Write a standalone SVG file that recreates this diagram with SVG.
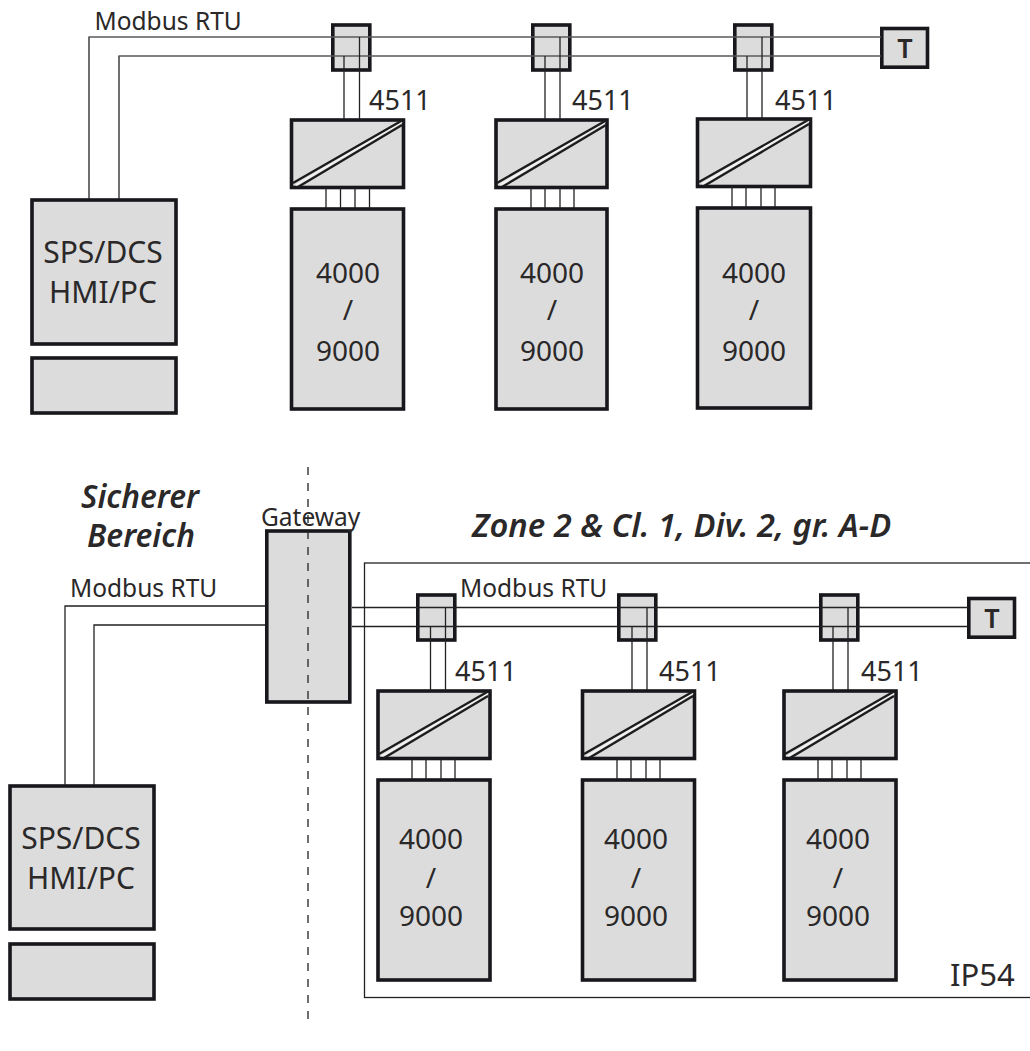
<svg xmlns="http://www.w3.org/2000/svg" width="1030" height="1051" viewBox="0 0 1030 1051">
<style>
.b{fill:#dcdcdc;stroke:#17171c;stroke-width:3.6}
.l{fill:none;stroke:#5a5a5a;stroke-width:1.5}
.k{fill:none;stroke:#222;stroke-width:1.3}
.s{fill:none;stroke:#1c1c1c;stroke-width:2.300}
.g{fill:none;stroke:#f4f4f4;stroke-width:2}
text{font-family:"Noto Sans","Open Sans",sans-serif;fill:#2a2828}
.m{font-size:24.500px}
.q{font-size:27px}
.n{font-size:28px;text-anchor:middle}
.p{font-size:30px;text-anchor:middle}
.i{font-size:31.500px;font-style:italic;font-weight:600}
.z{font-size:32.700px;font-style:italic;font-weight:600}
.t{font-size:27px;font-weight:600;text-anchor:middle}
.f{font-size:31px}
</style>
<rect width="1030" height="1051" fill="#fff"/>
<g id="zone"><rect x="364.500" y="563" width="670" height="434.500" fill="none" stroke="#222" stroke-width="1.300"/></g>
<g id="n-sps1"><rect class="b" x="32" y="200" width="144" height="144"/><text class="p" x="103" y="263">SPS/DCS</text><text class="p" x="103" y="303">HMI/PC</text></g>
<g id="n-panel1"><rect class="b" x="32" y="358" width="144" height="55"/></g>
<g id="n-c1"><rect class="b" x="332.800" y="25" width="37" height="45"/></g>
<g id="n-c2"><rect class="b" x="532.800" y="25" width="37" height="45"/></g>
<g id="n-c3"><rect class="b" x="734.800" y="25" width="37" height="45"/></g>
<g id="n-t1"><rect class="b" x="881.800" y="28.500" width="45.700" height="38.700"/><text class="t" x="905" y="58">T</text></g>
<g id="n-conv1"><rect class="b" x="291.500" y="120" width="112" height="67.500"/><path class="g" d="M296 185L402 122"/><path class="s" d="M293 183L402 120.500M298 187L402 125"/><text class="q" x="369" y="110">4511</text></g>
<g id="n-conv2"><rect class="b" x="496" y="120" width="111" height="67.500"/><path class="g" d="M500 185L605 122"/><path class="s" d="M497 183L606 120.500M502 187L606 125"/><text class="q" x="572" y="110">4511</text></g>
<g id="n-conv3"><rect class="b" x="697.500" y="119" width="113" height="67.500"/><path class="g" d="M702 184L809 121"/><path class="s" d="M699 182L809 119.500M704 186L809 124"/><text class="q" x="775" y="110">4511</text></g>
<g id="n-b1"><rect class="b" x="291.500" y="209" width="112" height="200"/><text class="n" x="348" y="283">4000</text><text class="n" x="348" y="320">/</text><text class="n" x="348" y="361">9000</text></g>
<g id="n-b2"><rect class="b" x="496" y="209" width="111" height="200"/><text class="n" x="552" y="283">4000</text><text class="n" x="552" y="320">/</text><text class="n" x="552" y="361">9000</text></g>
<g id="n-b3"><rect class="b" x="697.500" y="208" width="113" height="200"/><text class="n" x="754" y="283">4000</text><text class="n" x="754" y="320">/</text><text class="n" x="754" y="361">9000</text></g>
<g id="n-gw"><rect class="b" x="266.800" y="531" width="83" height="171"/><text class="m" x="261" y="526">Gateway</text></g>
<g id="n-sps2"><rect class="b" x="10" y="786" width="144" height="143"/><text class="p" x="81" y="849">SPS/DCS</text><text class="p" x="81" y="889">HMI/PC</text></g>
<g id="n-panel2"><rect class="b" x="10" y="944" width="144" height="55"/></g>
<g id="n-c4"><rect class="b" x="417.800" y="595" width="37" height="45"/></g>
<g id="n-c5"><rect class="b" x="618.800" y="595" width="37" height="45"/></g>
<g id="n-c6"><rect class="b" x="820.800" y="595" width="37" height="45"/></g>
<g id="n-t2"><rect class="b" x="968.800" y="598.500" width="45.700" height="38.700"/><text class="t" x="992" y="628">T</text></g>
<g id="n-conv4"><rect class="b" x="378" y="691" width="112" height="67.500"/><path class="g" d="M382 756L488 693"/><path class="s" d="M379 754L488 691.500M384 758L488 696"/><text class="q" x="455" y="681">4511</text></g>
<g id="n-conv5"><rect class="b" x="582.500" y="691" width="112" height="67.500"/><path class="g" d="M587 756L693 693"/><path class="s" d="M584 754L693 691.500M589 758L693 696"/><text class="q" x="659" y="681">4511</text></g>
<g id="n-conv6"><rect class="b" x="784" y="691" width="112" height="67.500"/><path class="g" d="M788 756L894 693"/><path class="s" d="M785 754L894 691.500M790 758L894 696"/><text class="q" x="861" y="681">4511</text></g>
<g id="n-b4"><rect class="b" x="378" y="780" width="112" height="200"/><text class="n" x="431" y="849">4000</text><text class="n" x="431" y="888">/</text><text class="n" x="431" y="926">9000</text></g>
<g id="n-b5"><rect class="b" x="582.500" y="780" width="112" height="200"/><text class="n" x="636" y="849">4000</text><text class="n" x="636" y="888">/</text><text class="n" x="636" y="926">9000</text></g>
<g id="n-b6"><rect class="b" x="784" y="780" width="112" height="200"/><text class="n" x="838" y="849">4000</text><text class="n" x="838" y="888">/</text><text class="n" x="838" y="926">9000</text></g>
<g id="connectors">
<path class="k" d="M89 199V37M119 199V56"/>
<path class="l" d="M88.400 37H881M118.400 56H881"/>
<path class="k" d="M344 56V119M359.500 37V119M545 56V119M560 37V119M747 56V118M762 37V118"/>
<path class="k" d="M326 188V208M340.500 188V208M355 188V208M369.500 188V208M531 188V208M545 188V208M560 188V208M574 188V208M732 187V207M746 187V207M761 187V207M775 187V207"/>
<path class="k" d="M65 785V606H265M94 785V625H265M352 607.500H968M352 626.500H968"/>
<path class="k" d="M430.500 627V690M445.500 608V690M632 627V690M647 608V690M833 627V690M848 608V690"/>
<path class="k" d="M412 759V779M426 759V779M441 759V779M455 759V779M617 759V779M631 759V779M646 759V779M660 759V779M818 759V779M832 759V779M847 759V779M861 759V779"/>
<path class="k" stroke-dasharray="8 8" d="M308 467V1025"/>
</g>
<g id="labels">
<text class="m" x="94.500" y="30">Modbus RTU</text>
<text class="m" x="70" y="596.500">Modbus RTU</text>
<text class="m" x="460" y="596.500">Modbus RTU</text>
<text class="i" x="81" y="508">Sicherer</text>
<text class="i" x="87" y="546.500">Bereich</text>
<text class="z" x="472" y="537">Zone 2 &amp; Cl. 1, Div. 2, gr. A-D</text>
<text class="f" x="950" y="986">IP54</text>
</g>
</svg>
